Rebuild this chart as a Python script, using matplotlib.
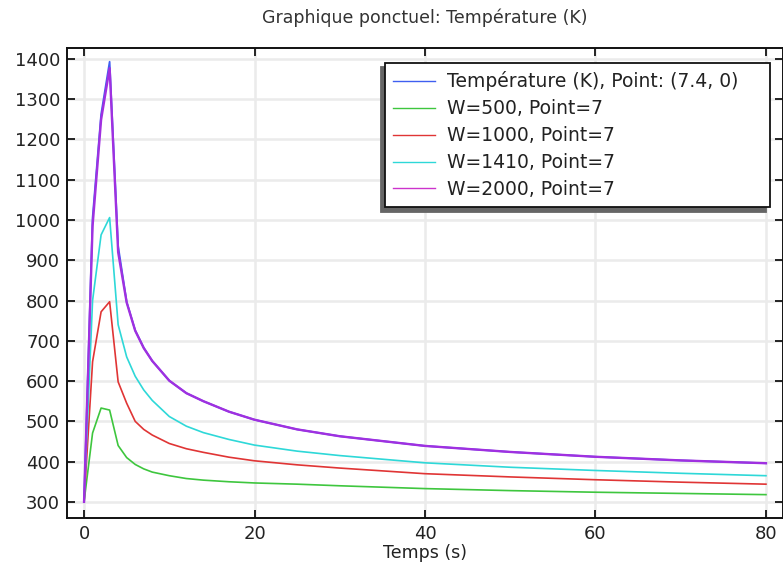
import matplotlib
matplotlib.use("Agg")
import matplotlib.pyplot as plt
from matplotlib.lines import Line2D

plt.rcParams["font.family"] = ["DejaVu Sans"]

# ---- data ----
time_s = [0, 1, 2, 3, 4, 5, 6, 7, 8, 10, 12, 14, 17, 20, 25, 30, 40, 50, 60, 70, 80]
temp_point = [300, 1005, 1262, 1393, 935, 797, 726, 683, 650, 601, 570, 550, 524, 504, 480, 463, 439, 424, 412, 403, 396]
w500 = [300, 471, 533, 528, 440, 410, 393, 382, 374, 365, 358, 354, 350, 347, 344, 340, 333, 328, 324, 321, 318]
w1000 = [300, 648, 772, 797, 598, 545, 500, 480, 466, 445, 432, 423, 411, 402, 392, 384, 370, 362, 355, 349, 344]
w1410 = [300, 800, 963, 1006, 740, 660, 612, 578, 552, 512, 488, 472, 455, 441, 426, 415, 397, 386, 378, 371, 365]
w2000 = [300, 985, 1249, 1377, 920, 795, 725, 682, 650, 601, 570, 550, 524, 504, 480, 463, 439, 424, 412, 403, 396]

labels = ["Température (K), Point: (7.4, 0)", "W=500, Point=7", "W=1000, Point=7",
          "W=1410, Point=7", "W=2000, Point=7"]
xticks = [0, 20, 40, 60, 80]
yticks = [300, 400, 500, 600, 700, 800, 900, 1000, 1100, 1200, 1300, 1400]

c_blue = "#3f5ff0"
c_green = "#3ec63e"
c_red = "#e03535"
c_cyan = "#2ed8d8"
c_mag = "#cc33cc"
c_purple = "#a030e0"

fig = plt.figure(figsize=(7.83, 5.65), dpi=100)
ax = fig.add_axes([67 / 783, 47 / 565, 716 / 783, 470 / 565])

ax.plot(time_s, temp_point, color=c_blue, lw=1.3, zorder=3)
ax.plot(time_s, w500, color=c_green, lw=1.2, zorder=4)
ax.plot(time_s, w1000, color=c_red, lw=1.2, zorder=4)
ax.plot(time_s, w1410, color=c_cyan, lw=1.2, zorder=4)
ax.plot(time_s, w2000, color=c_purple, lw=1.7, zorder=5)

ax.set_xlim(-2, 82)
ax.set_ylim(260, 1427)
ax.set_xticks(xticks)
ax.set_yticks(yticks)
ax.grid(True, color="#ebebeb", lw=1.8, zorder=0)
ax.set_axisbelow(True)
ax.tick_params(direction="in", length=6, width=1.2, top=True, right=True,
               labelsize=13, labelcolor="#222222", pad=5)
for s in ax.spines.values():
    s.set_linewidth(1.4)
    s.set_color("#111111")

ax.set_xlabel("Temps (s)", fontsize=12.5, color="#222222", labelpad=1)
ax.set_title("Graphique ponctuel: Température (K)", fontsize=12.5, color="#333333", pad=18)

handles = [Line2D([], [], color=c, lw=1.0) for c in (c_blue, c_green, c_red, c_cyan, c_mag)]
x0 = (385 - 67) / 716
w = (770 - 385) / 716
ytop = (518 - 63) / 470
h = (215 - 63) / 470
leg = ax.legend(handles, labels, loc="upper left", bbox_to_anchor=(x0, ytop - h, w, h),
                mode="expand", fontsize=13.5, frameon=True, fancybox=False,
                edgecolor="#111111", framealpha=1, borderpad=0.45, labelspacing=0.42,
                handlelength=2.2, handletextpad=0.65, borderaxespad=0,
                shadow={"ox": -3, "oy": -3, "color": "#666666", "alpha": 1})
leg.get_frame().set_linewidth(1.3)
for t in leg.get_texts():
    t.set_color("#222222")

fig.savefig("out.png", dpi=100)
